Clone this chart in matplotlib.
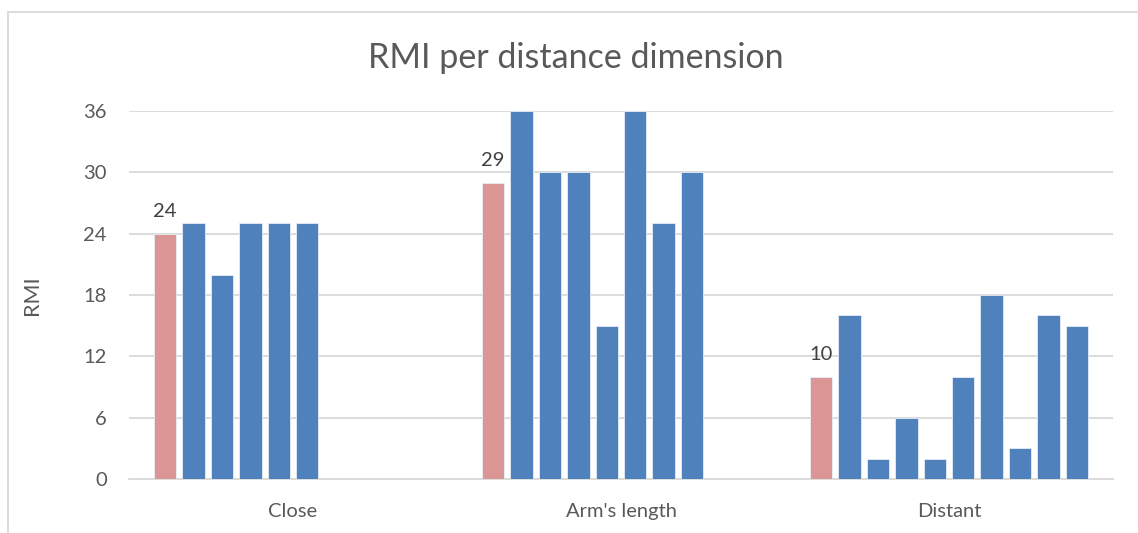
import numpy as np
import matplotlib.pyplot as plt
from matplotlib.patches import Rectangle

plt.rcParams["font.family"] = ["Lato", "DejaVu Sans"]

# RMI values per distance category; first entry is the highlighted reference bar
categories = ["Close", "Arm's length", "Distant"]
close_vals = [24, 25, 20, 25, 25, 25]
arms_vals = [29, 36, 30, 30, 15, 36, 25, 30]
distant_vals = [10, 16, 2, 6, 2, 10, 18, 3, 16, 15]
yticks = [0, 6, 12, 18, 24, 30, 36]

groups = [close_vals, arms_vals, distant_vals]
n_slots = max(len(g) for g in groups)

blue = "#4F81BD"
pink = "#D99694"
text_gray = "#595959"
grid_gray = "#D9D9D9"

fig = plt.figure(figsize=(11.38, 5.33), dpi=100)
ax = fig.add_axes([129 / 1138, 54 / 533, 984 / 1138, 368 / 533])

step = 0.0866
width = 0.068
for gi, vals in enumerate(groups):
    for j, v in enumerate(vals):
        x = gi + (j - (n_slots - 1) / 2) * step
        color = pink if j == 0 else blue
        ax.bar(x, v, width=width, color=color, edgecolor="#E6EEF7", linewidth=0.6, zorder=3)
        if j == 0:
            ax.text(x, v + 1.3, str(v), ha="center", va="bottom", fontsize=14.5, color="#404040")

ax.set_xlim(-0.5, len(categories) - 0.5)
ax.set_ylim(0, 36)
ax.set_yticks(yticks)
ax.set_yticklabels([str(t) for t in yticks], fontsize=14.5, color=text_gray)
ax.set_xticks(range(len(categories)))
ax.set_xticklabels(categories, fontsize=14.5, color=text_gray)
ax.tick_params(axis="both", length=0)
ax.tick_params(axis="y", pad=16)
ax.tick_params(axis="x", pad=17)
ax.yaxis.grid(True, color=grid_gray, linewidth=1.3, zorder=0)
ax.set_axisbelow(True)
for side in ["top", "right", "left"]:
    ax.spines[side].set_visible(False)
ax.spines["bottom"].set_color(grid_gray)
ax.spines["bottom"].set_linewidth(1.3)

ax.set_ylabel("RMI", fontsize=15.5, color=text_gray, labelpad=30)
fig.text(576 / 1138, 1 - 58 / 533, "RMI per distance dimension", ha="center", va="center",
         fontsize=24.5, color=text_gray)

# light chart frame
fig.patches.append(Rectangle((8 / 1138, -0.1), 1.1, 1 - 12 / 533 + 0.1, transform=fig.transFigure,
                             fill=False, edgecolor=grid_gray, linewidth=1.3))

fig.savefig("out.png", dpi=100)
